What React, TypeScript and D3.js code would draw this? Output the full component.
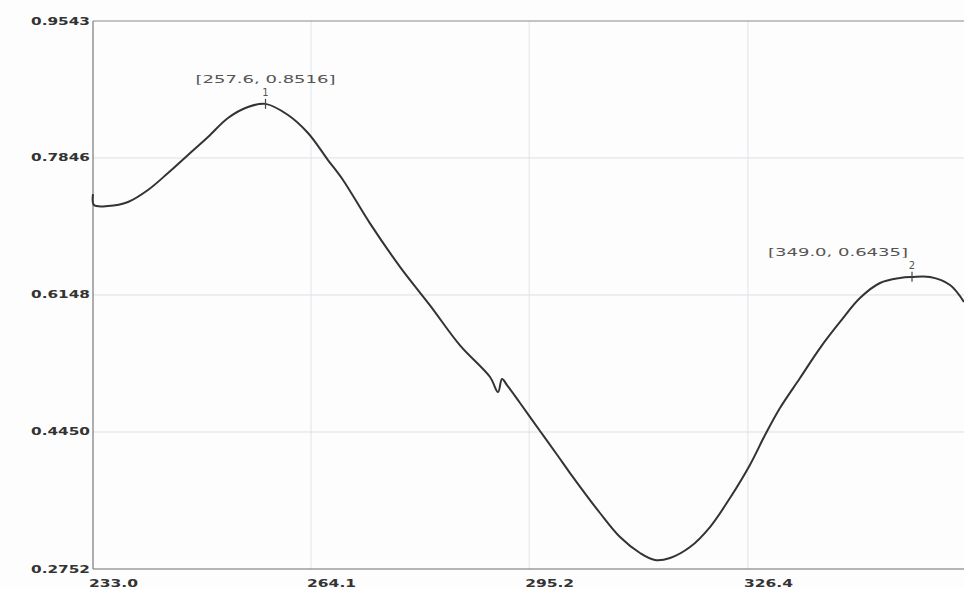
import React from "react";
import * as d3 from "d3";

// Spectrum trace (wavelength, absorbance)
const wavelength = [
  233.0, 233.14, 235.14, 237.99, 240.84, 243.7, 246.55, 249.4, 252.25, 255.1, 257.6,
  260.81, 263.66, 266.51, 268.65, 272.5, 276.78, 281.06, 285.34, 289.62, 290.76,
  291.33, 292.04, 293.9, 296.75, 299.31, 301.03, 305.3, 308.16, 311.01, 313.15,
  315.29, 318.14, 320.99, 323.84, 326.7, 328.84, 330.97, 333.83, 336.68, 339.53,
  342.38, 345.24, 348.09, 349.8, 352.37, 355.22, 357.21,
];
const absorbance = [
  0.7399, 0.7263, 0.725, 0.73, 0.7449, 0.7659, 0.7882, 0.8105, 0.8341, 0.8477, 0.8516,
  0.8378, 0.8155, 0.782, 0.7573, 0.7035, 0.6497, 0.6019, 0.5523, 0.5131, 0.4945,
  0.5106, 0.5032, 0.4809, 0.4462, 0.4152, 0.3941, 0.3446, 0.3148, 0.295, 0.2863,
  0.2888, 0.3024, 0.3272, 0.3632, 0.4045, 0.4412, 0.4747, 0.5119, 0.549, 0.5813,
  0.611, 0.6296, 0.6358, 0.637, 0.637, 0.6271, 0.6061,
];

const xTicks = [233.0, 264.1, 295.2, 326.4];
const yTicks = [0.2752, 0.445, 0.6148, 0.7846, 0.9543];

// Peak markers
const peakIds = ["1", "2"];
const peakLabels = ["[257.6, 0.8516]", "[349.0, 0.6435]"];
const peakX = [257.6, 349.8];
const peakY = [0.8516, 0.6375];

const W = 964;
const H = 589;
const left = 93;
const top = 21;
const bottom = 569;
const right = 966;

export default function App() {
  const x = d3.scaleLinear().domain([233.0, 357.5]).range([left, right]);
  const y = d3.scaleLinear().domain([0.2752, 0.9543]).range([bottom, top]);
  const pts = wavelength.map((w, i) => [w, absorbance[i]] as [number, number]);
  const line = d3
    .line<[number, number]>()
    .x((d) => x(d[0]))
    .y((d) => y(d[1]))
    .curve(d3.curveCatmullRom.alpha(0.5));

  return (
    <svg
      width={W}
      height={H}
      style={{ position: "absolute", left: 0, top: 0, background: "#fff" }}
    >
      <rect x={0} y={0} width={W} height={H} fill="#fdfdfd" />
      {/* grid */}
      {xTicks.slice(1).map((t) => (
        <line key={"gx" + t} x1={x(t)} x2={x(t)} y1={top} y2={bottom} stroke="#dfe5ec" strokeWidth={1} />
      ))}
      {yTicks.slice(1, -1).map((t) => (
        <line key={"gy" + t} x1={left} x2={W} y1={y(t)} y2={y(t)} stroke="#dcdfe3" strokeWidth={1} />
      ))}
      {/* frame */}
      <line x1={left} x2={W} y1={top} y2={top} stroke="#8a8a8a" strokeWidth={1} />
      <line x1={left} x2={W} y1={bottom} y2={bottom} stroke="#6f6f6f" strokeWidth={1.2} />
      <line x1={left} x2={left} y1={top} y2={bottom} stroke="#7a7a7a" strokeWidth={1.2} />

      {/* y labels */}
      {yTicks.map((t) => (
        <text
          key={"yl" + t}
          x={90}
          y={y(t)}
          textAnchor="end"
          dominantBaseline="central"
          fontFamily="DejaVu Sans"
          fontWeight="bold"
          fontSize={11}
          fill="#333"
          textLength={59}
          lengthAdjust="spacingAndGlyphs"
        >
          {t.toFixed(4)}
        </text>
      ))}
      {/* x labels */}
      {xTicks.map((t) => (
        <text
          key={"xl" + t}
          x={x(t) - 4}
          y={583}
          textAnchor="start"
          dominantBaseline="central"
          fontFamily="DejaVu Sans"
          fontWeight="bold"
          fontSize={11}
          fill="#333"
          textLength={49}
          lengthAdjust="spacingAndGlyphs"
        >
          {t.toFixed(1)}
        </text>
      ))}

      {/* curve */}
      <path d={line(pts) || ""} fill="none" stroke="#333" strokeWidth={2} strokeLinejoin="round" />

      {/* peaks */}
      {peakIds.map((id, i) => {
        const px = x(peakX[i]);
        const py = y(peakY[i]);
        const lx = Math.min(px, 838);
        return (
          <g key={"pk" + id}>
            <line x1={px} x2={px} y1={py - 5} y2={py + 5} stroke="#444" strokeWidth={1.2} />
            <text
              x={px}
              y={py - 11}
              textAnchor="middle"
              dominantBaseline="central"
              fontFamily="DejaVu Sans"
              fontSize={10}
              fill="#555"
            >
              {id}
            </text>
            <text
              x={lx}
              y={py - 24}
              textAnchor="middle"
              dominantBaseline="central"
              fontFamily="DejaVu Sans"
              fontSize={11}
              fill="#555"
              textLength={140}
              lengthAdjust="spacingAndGlyphs"
            >
              {peakLabels[i]}
            </text>
          </g>
        );
      })}
    </svg>
  );
}
